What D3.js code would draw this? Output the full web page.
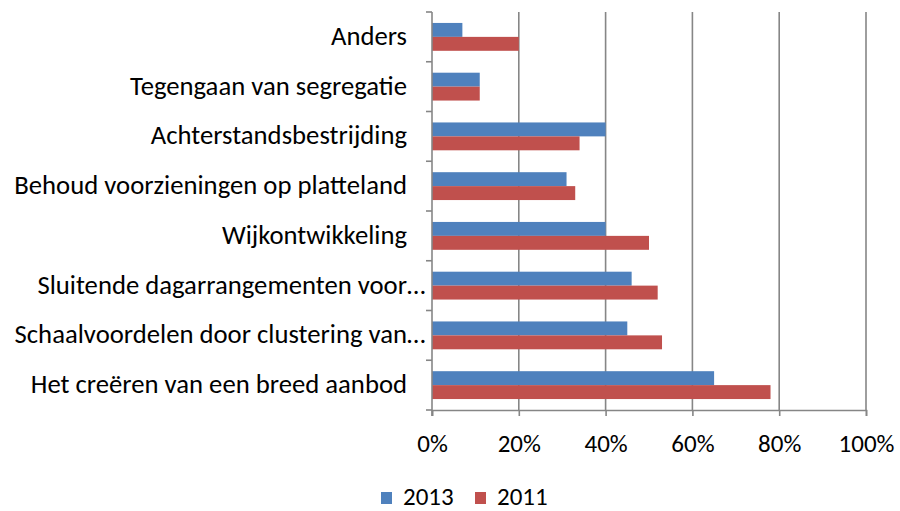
<!DOCTYPE html>
<html>
<head>
<meta charset="utf-8">
<script src="https://cdn.jsdelivr.net/npm/d3@7"></script>
<style>
  html, body { margin: 0; padding: 0; background: #fff; }
  svg { display: block; font-family: Carlito, Lato, "Liberation Sans", sans-serif; }
</style>
</head>
<body>
<svg id="chart" width="900" height="511"></svg>
<script>
// categories, top to bottom as shown
const categories = [
  "Anders",
  "Tegengaan van segregatie",
  "Achterstandsbestrijding",
  "Behoud voorzieningen op platteland",
  "Wijkontwikkeling",
  "Sluitende dagarrangementen voor…",
  "Schaalvoordelen door clustering van…",
  "Het creëren van een breed aanbod"
]
const seriesNames = ["2013", "2011"]
const values2013 = [7, 11, 40, 31, 40, 46, 45, 65]
const values2011 = [20, 11, 34, 33, 50, 52, 53, 78]
const xTicks = [0, 20, 40, 60, 80, 100]
const colors = { "2013": "#4F81BD", "2011": "#C0504D" }

const svg = d3.select("#chart")
const plot = { left: 432, right: 866, top: 12, bottom: 410 }
const gridColor = "#868686"

const x = d3.scaleLinear().domain([0, 100]).range([plot.left, plot.right])
const y = d3.scaleBand().domain(categories).range([plot.top, plot.bottom])
  .paddingInner(0.44).paddingOuter(0.22)
const ySub = d3.scaleBand().domain(seriesNames).range([0, y.bandwidth()])

const rows = categories.map((c, i) => ({ cat: c, "2013": values2013[i], "2011": values2011[i] }))

// vertical gridlines
svg.append("g")
  .selectAll("line")
  .data(xTicks.slice(1))
  .join("line")
  .attr("x1", d => x(d)).attr("x2", d => x(d))
  .attr("y1", plot.top).attr("y2", plot.bottom)
  .attr("stroke", gridColor).attr("stroke-width", 1.6)

// bars
svg.append("g")
  .selectAll("g")
  .data(rows)
  .join("g")
  .attr("transform", d => `translate(0,${y(d.cat)})`)
  .selectAll("rect")
  .data(d => seriesNames.map(s => ({ s, v: d[s] })))
  .join("rect")
  .attr("x", x(0))
  .attr("y", d => ySub(d.s))
  .attr("width", d => x(d.v) - x(0))
  .attr("height", ySub.bandwidth())
  .attr("fill", d => colors[d.s])

// bottom axis
const xAxis = d3.axisBottom(x).tickValues(xTicks).tickFormat(d => d + "%").tickSize(6).tickPadding(18)
const gx = svg.append("g").attr("transform", `translate(0,${plot.bottom})`).call(xAxis)
gx.select(".domain").attr("stroke", gridColor).attr("stroke-width", 1.6)
gx.selectAll(".tick line").attr("stroke", gridColor).attr("stroke-width", 1.6)
gx.selectAll(".tick text").attr("font-size", 25).attr("fill", "#000")
gx.attr("font-family", null).attr("font-size", null)

// left axis line with category separators
const step = y.step()
svg.append("line")
  .attr("x1", plot.left).attr("x2", plot.left).attr("y1", plot.top).attr("y2", plot.bottom + 6)
  .attr("stroke", gridColor).attr("stroke-width", 1.6)
svg.append("g")
  .selectAll("line")
  .data(d3.range(categories.length + 1))
  .join("line")
  .attr("x1", plot.left - 6).attr("x2", plot.left)
  .attr("y1", i => plot.top + i * step).attr("y2", i => plot.top + i * step)
  .attr("stroke", gridColor).attr("stroke-width", 1.6)

// category labels (ellipsis hangs past the right edge like in Excel)
const labelRight = 407
const labels = svg.append("g")
  .selectAll("text")
  .data(categories)
  .join("text")
  .attr("y", d => y(d) + y.bandwidth() / 2)
  .attr("dy", "0.3em")
  .attr("text-anchor", "end")
  .attr("font-size", 26.7)
  .attr("fill", "#000")
  .text(d => d)
labels.each(function (d) {
  let shift = 0
  if (d.endsWith("…")) {
    const full = this.getComputedTextLength()
    this.textContent = d.slice(0, -1)
    shift = full - this.getComputedTextLength()
    this.textContent = d
  }
  d3.select(this).attr("x", labelRight + shift)
})

// legend
const legend = svg.append("g").attr("transform", "translate(381,492)")
const legendX = { "2013": 0, "2011": 94 }
seriesNames.forEach(s => {
  const g = legend.append("g").attr("transform", `translate(${legendX[s]},0)`)
  g.append("rect").attr("width", 11).attr("height", 12).attr("fill", colors[s])
  g.append("text").attr("x", 22).attr("y", 13).attr("font-size", 25).attr("fill", "#000").text(s)
})
</script>
</body>
</html>
